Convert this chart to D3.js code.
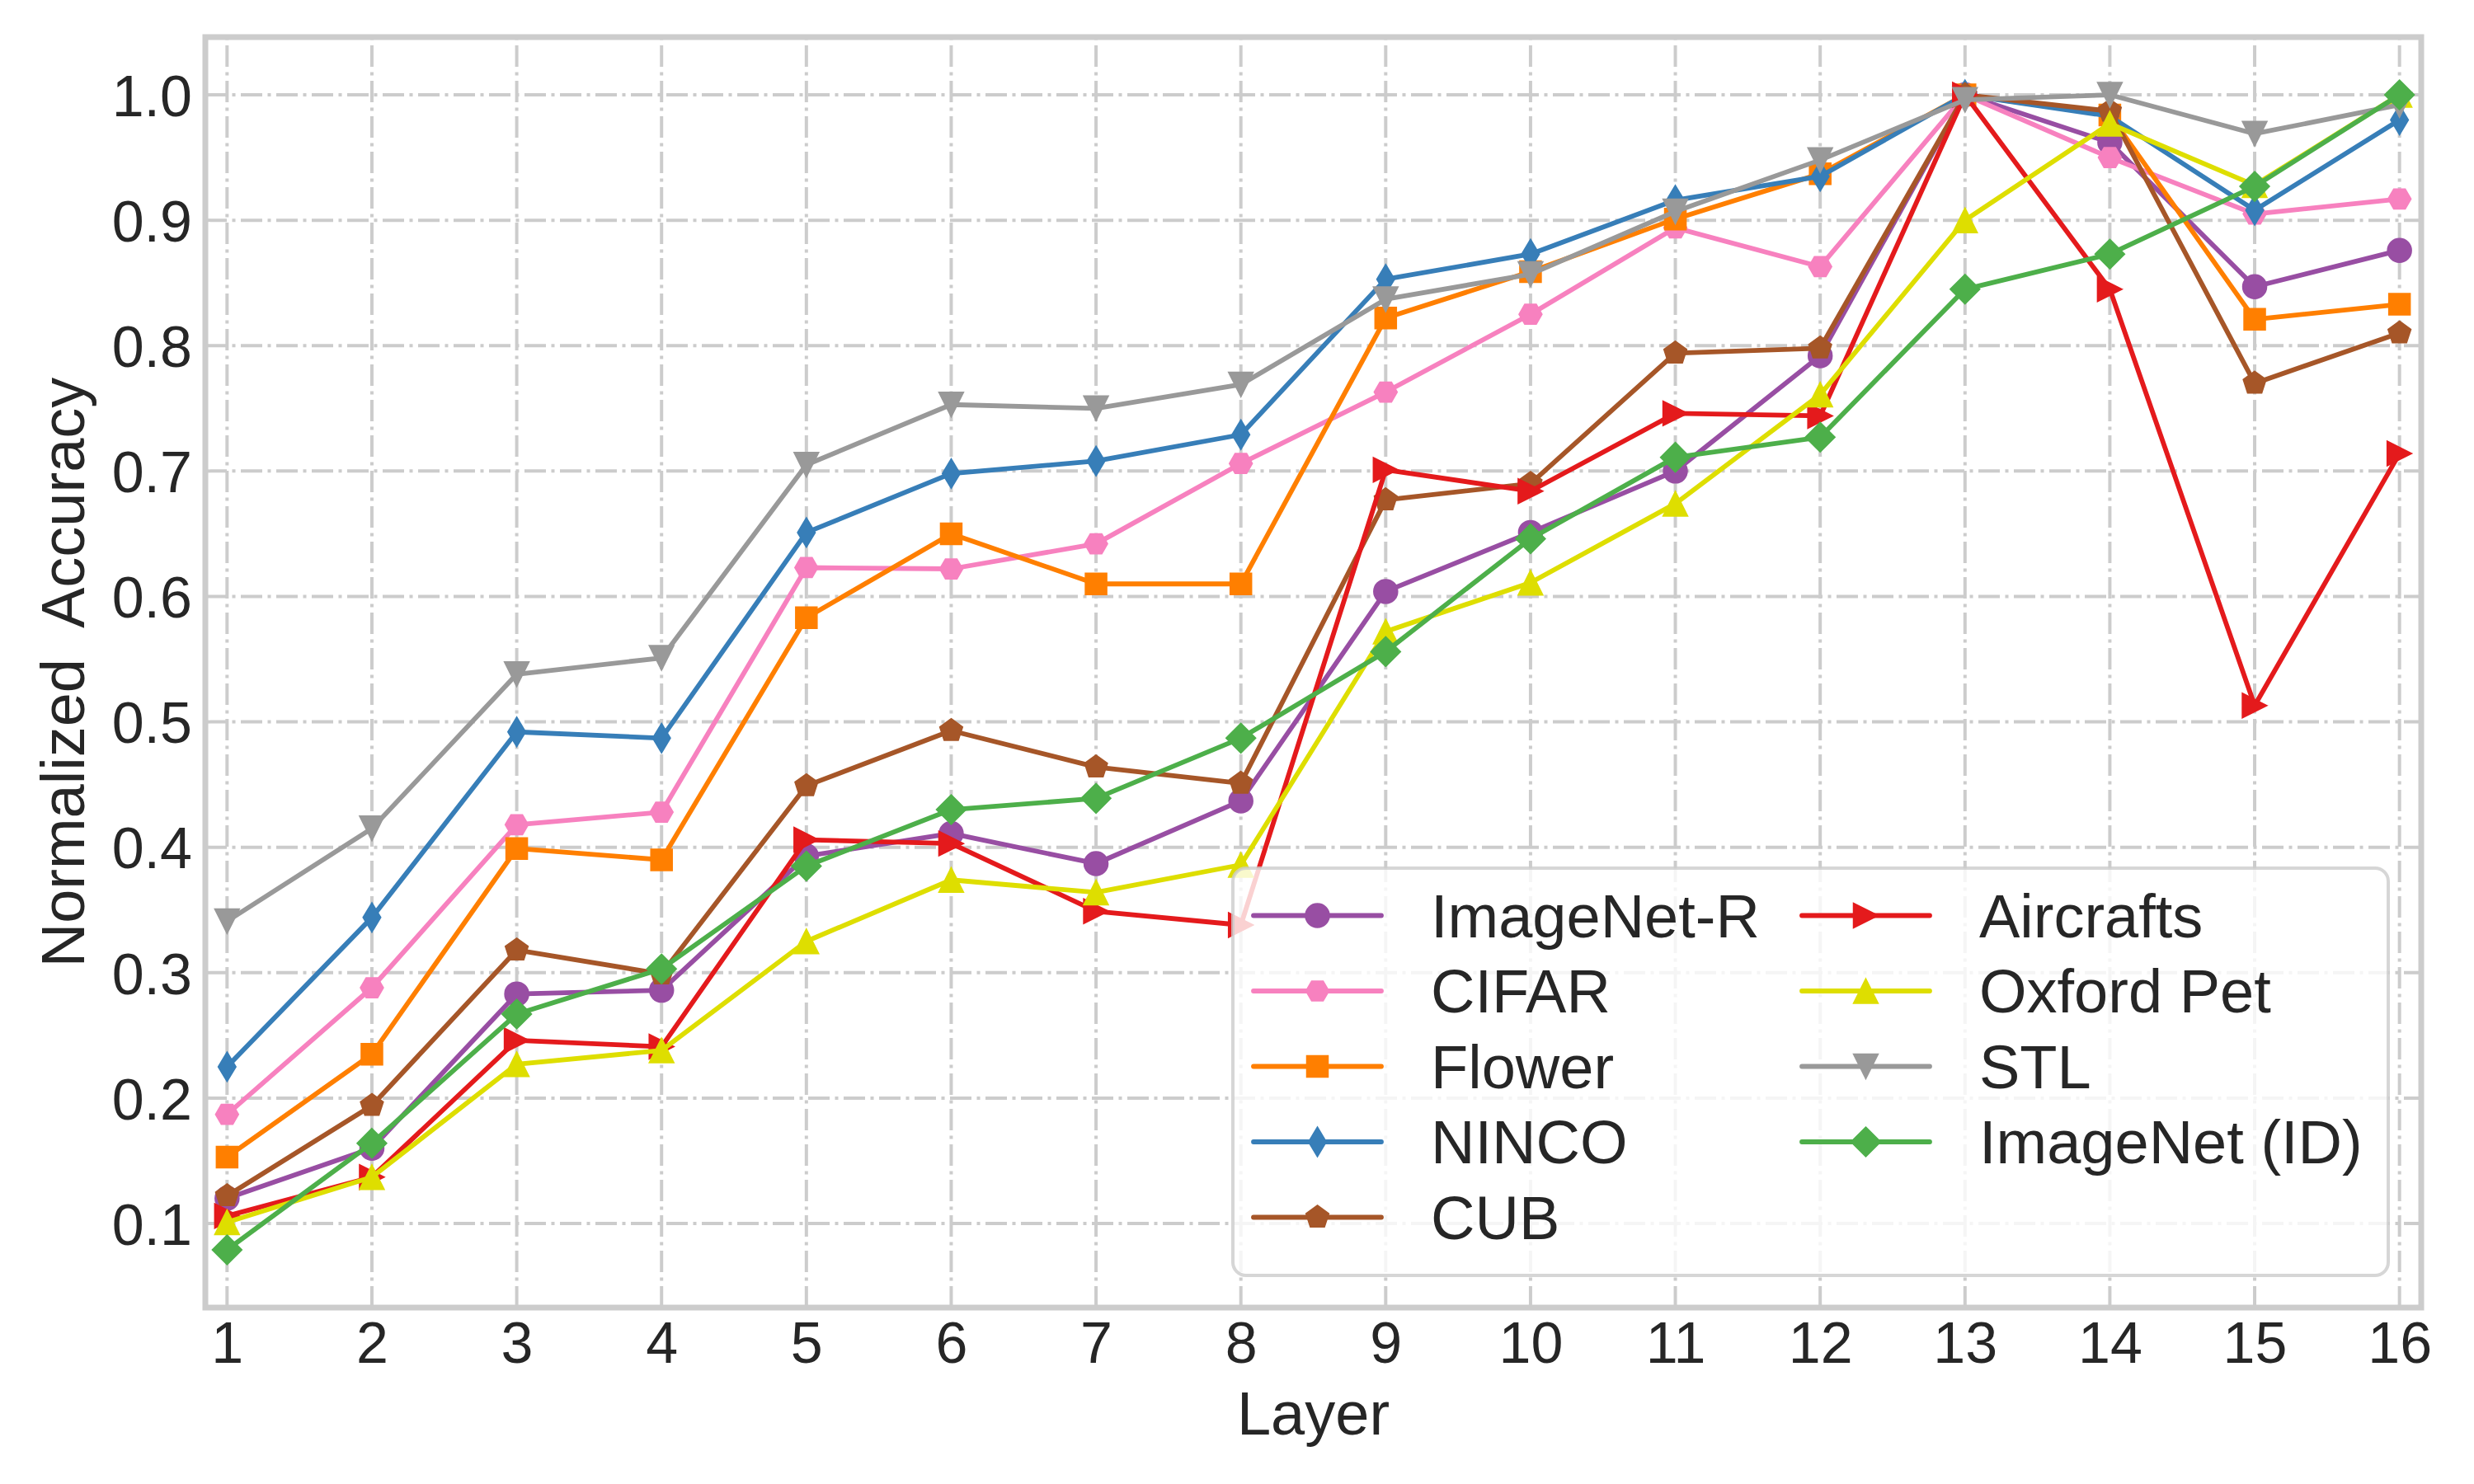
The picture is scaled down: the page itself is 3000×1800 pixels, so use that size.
<!DOCTYPE html>
<html>
<head>
<meta charset="utf-8">
<script src="https://cdn.jsdelivr.net/npm/d3@7"></script>
<style>
  body { margin: 0; background: #fff; }
  text { font-family: "Liberation Sans", Arial, sans-serif; fill: #262626; }
</style>
</head>
<body>
<svg id="chart" width="3000" height="1800"></svg>
<script>
// data
const layers = [1, 2, 3, 4, 5, 6, 7, 8, 9, 10, 11, 12, 13, 14, 15, 16];
const yTicks = [0.1, 0.2, 0.3, 0.4, 0.5, 0.6, 0.7, 0.8, 0.9, 1.0];

const imagenetR = [0.120, 0.160, 0.283, 0.286, 0.393, 0.411, 0.387, 0.437, 0.604, 0.651, 0.700, 0.792, 1.0, 0.962, 0.847, 0.876];
const cifar     = [0.187, 0.288, 0.418, 0.428, 0.623, 0.622, 0.642, 0.706, 0.763, 0.825, 0.894, 0.863, 1.0, 0.950, 0.905, 0.917];
const flower    = [0.153, 0.235, 0.399, 0.390, 0.583, 0.650, 0.610, 0.610, 0.822, 0.859, 0.901, 0.937, 1.0, 0.984, 0.821, 0.833];
const ninco     = [0.225, 0.344, 0.492, 0.487, 0.651, 0.698, 0.708, 0.729, 0.853, 0.873, 0.916, 0.935, 1.0, 0.983, 0.908, 0.980];
const cub       = [0.122, 0.194, 0.318, 0.299, 0.449, 0.493, 0.464, 0.451, 0.677, 0.690, 0.794, 0.798, 1.0, 0.987, 0.770, 0.810];
const aircrafts = [0.106, 0.137, 0.246, 0.241, 0.406, 0.403, 0.349, 0.338, 0.701, 0.684, 0.746, 0.744, 1.0, 0.845, 0.513, 0.714];
const oxfordPet = [0.101, 0.137, 0.227, 0.238, 0.325, 0.374, 0.364, 0.386, 0.572, 0.611, 0.674, 0.761, 0.900, 0.977, 0.928, 1.0];
const stl       = [0.341, 0.415, 0.538, 0.551, 0.705, 0.753, 0.750, 0.769, 0.837, 0.857, 0.907, 0.948, 0.996, 1.0, 0.969, 0.992];
const imagenet  = [0.079, 0.164, 0.267, 0.303, 0.385, 0.430, 0.439, 0.487, 0.556, 0.646, 0.711, 0.727, 0.845, 0.873, 0.927, 1.0];

const seriesNames  = ["ImageNet-R", "CIFAR", "Flower", "NINCO", "CUB", "Aircrafts", "Oxford Pet", "STL", "ImageNet (ID)"];
const seriesValues = [imagenetR, cifar, flower, ninco, cub, aircrafts, oxfordPet, stl, imagenet];
const seriesColors = ["#984ea3", "#f781bf", "#ff7f00", "#377eb8", "#a65628", "#e41a1c", "#dede00", "#999999", "#4daf4a"];
const seriesMarkers = ["circle", "hexagon", "square", "thinDiamond", "pentagon", "triRight", "triUp", "triDown", "diamond"];

// frame of the axes
let frameLeft = 249, frameRight = 2936, frameTop = 45, frameBottom = 1586;

var svg = d3.select("#chart");

let allValues = [].concat(...seriesValues);
let ext = d3.extent(allValues);
let pad = (ext[1] - ext[0]) * 0.05;

var x = d3.scaleLinear().domain([0.85, 16.15]).range([frameLeft, frameRight]);
var y = d3.scaleLinear().domain([ext[0] - pad, ext[1] + pad]).range([frameBottom, frameTop]);

// marker shapes, centred on 0,0
function polygon(n, r, startAngle) {
	let pts = [];
	for (let i = 0; i < n; i++) {
		let a = startAngle + i * 2 * Math.PI / n;
		pts.push([r * Math.cos(a), r * Math.sin(a)]);
	}
	return "M" + pts.map(p => p[0].toFixed(2) + "," + p[1].toFixed(2)).join("L") + "Z";
}
function markerPath(kind) {
	switch (kind) {
		case "circle": return "M14.5,0A14.5,14.5 0 1,1 -14.5,0A14.5,14.5 0 1,1 14.5,0Z";
		case "hexagon": return polygon(6, 14, 0);
		case "square": return "M-13,-13H13V13H-13Z";
		case "thinDiamond": return "M0,-18L10.8,0L0,18L-10.8,0Z";
		case "pentagon": return polygon(5, 14.6, -Math.PI / 2);
		case "triRight": return "M15,0L-15,-15L-15,15Z";
		case "triUp": return "M0,-15L15,15L-15,15Z";
		case "triDown": return "M0,15L15,-15L-15,-15Z";
		case "diamond": return "M0,-18L18,0L0,18L-18,0Z";
	}
}

// grid, dash-dot like matplotlib "-."
const gridDash = "26,6.5,4,6.5";
svg.append("g").selectAll("line")
	.data(layers)
	.join("line")
	.attr("x1", d => x(d)).attr("x2", d => x(d))
	.attr("y1", frameBottom).attr("y2", frameTop)
	.attr("stroke", "#cccccc").attr("stroke-width", 4)
	.attr("stroke-dasharray", gridDash);

svg.append("g").selectAll("line")
	.data(yTicks)
	.join("line")
	.attr("x1", frameLeft).attr("x2", frameRight)
	.attr("y1", d => y(d)).attr("y2", d => y(d))
	.attr("stroke", "#cccccc").attr("stroke-width", 4)
	.attr("stroke-dasharray", gridDash);

// axes (labels only, no tick marks)
var xAxis = d3.axisBottom(x).tickValues(layers).tickFormat(d3.format("d")).tickSize(0).tickPadding(0);
var gx = svg.append("g").attr("transform", `translate(0,${frameBottom})`).call(xAxis);
gx.select(".domain").remove();
gx.selectAll("text")
	.attr("y", 67).attr("dy", null)
	.style("font-size", "70px").style("font-family", "Liberation Sans, Arial, sans-serif")
	.attr("fill", "#262626");

var yAxis = d3.axisLeft(y).tickValues(yTicks).tickFormat(d3.format(".1f")).tickSize(0).tickPadding(0);
var gy = svg.append("g").attr("transform", `translate(${frameLeft - 16},0)`).call(yAxis);
gy.select(".domain").remove();
gy.selectAll("text")
	.attr("x", 0).attr("dy", "0.36em")
	.style("font-size", "70px").style("font-family", "Liberation Sans, Arial, sans-serif")
	.attr("fill", "#262626");

// lines and markers
var line = d3.line()
	.x((d, i) => x(layers[i]))
	.y(d => y(d));

seriesValues.forEach(function (vals, k) {
	let g = svg.append("g").attr("class", "series");
	g.append("path")
		.attr("d", line(vals))
		.attr("fill", "none")
		.attr("stroke", seriesColors[k])
		.attr("stroke-width", 5.8)
		.attr("stroke-linejoin", "round");
	g.selectAll(".mark")
		.data(vals)
		.join("path")
		.attr("class", "mark")
		.attr("d", markerPath(seriesMarkers[k]))
		.attr("transform", (d, i) => `translate(${x(layers[i])},${y(d)})`)
		.attr("fill", seriesColors[k])
		.attr("stroke", seriesColors[k]).attr("stroke-width", 1.5);
});

// frame
svg.append("rect")
	.attr("x", frameLeft).attr("y", frameTop)
	.attr("width", frameRight - frameLeft).attr("height", frameBottom - frameTop)
	.attr("fill", "none").attr("stroke", "#cccccc").attr("stroke-width", 7);

// axis titles
svg.append("text")
	.attr("x", (frameLeft + frameRight) / 2).attr("y", 1740)
	.attr("text-anchor", "middle")
	.style("font-size", "74px")
	.text("Layer");

svg.append("text")
	.attr("transform", `translate(102,${(frameTop + frameBottom) / 2}) rotate(-90)`)
	.attr("text-anchor", "middle")
	.style("font-size", "74px")
	.style("white-space", "pre")
	.attr("xml:space", "preserve")
	.text("Normalized  Accuracy");

// legend, two columns filled top to bottom
let legendX = 1495, legendY = 1053, legendW = 1401, legendH = 494;
let legend = svg.append("g");
legend.append("rect")
	.attr("x", legendX).attr("y", legendY)
	.attr("width", legendW).attr("height", legendH)
	.attr("rx", 16).attr("ry", 16)
	.attr("fill", "white").attr("fill-opacity", 0.8)
	.attr("stroke", "#cccccc").attr("stroke-opacity", 0.8).attr("stroke-width", 4);

let rowH = 91.5, firstRow = 1110.5, colX = [1520, 2185];
seriesNames.forEach(function (name, k) {
	let col = k < 5 ? 0 : 1;
	let row = k < 5 ? k : k - 5;
	let cy = firstRow + row * rowH;
	let lx = colX[col];
	let item = legend.append("g");
	item.append("line")
		.attr("x1", lx).attr("x2", lx + 155)
		.attr("y1", cy).attr("y2", cy)
		.attr("stroke", seriesColors[k]).attr("stroke-width", 5.8)
		.attr("stroke-linecap", "round");
	item.append("path")
		.attr("d", markerPath(seriesMarkers[k]))
		.attr("transform", `translate(${lx + 77.5},${cy})`)
		.attr("fill", seriesColors[k])
		.attr("stroke", seriesColors[k]).attr("stroke-width", 1.5);
	item.append("text")
		.attr("x", lx + 215).attr("y", cy + 26)
		.style("font-size", "74px")
		.text(name);
});
</script>
</body>
</html>
